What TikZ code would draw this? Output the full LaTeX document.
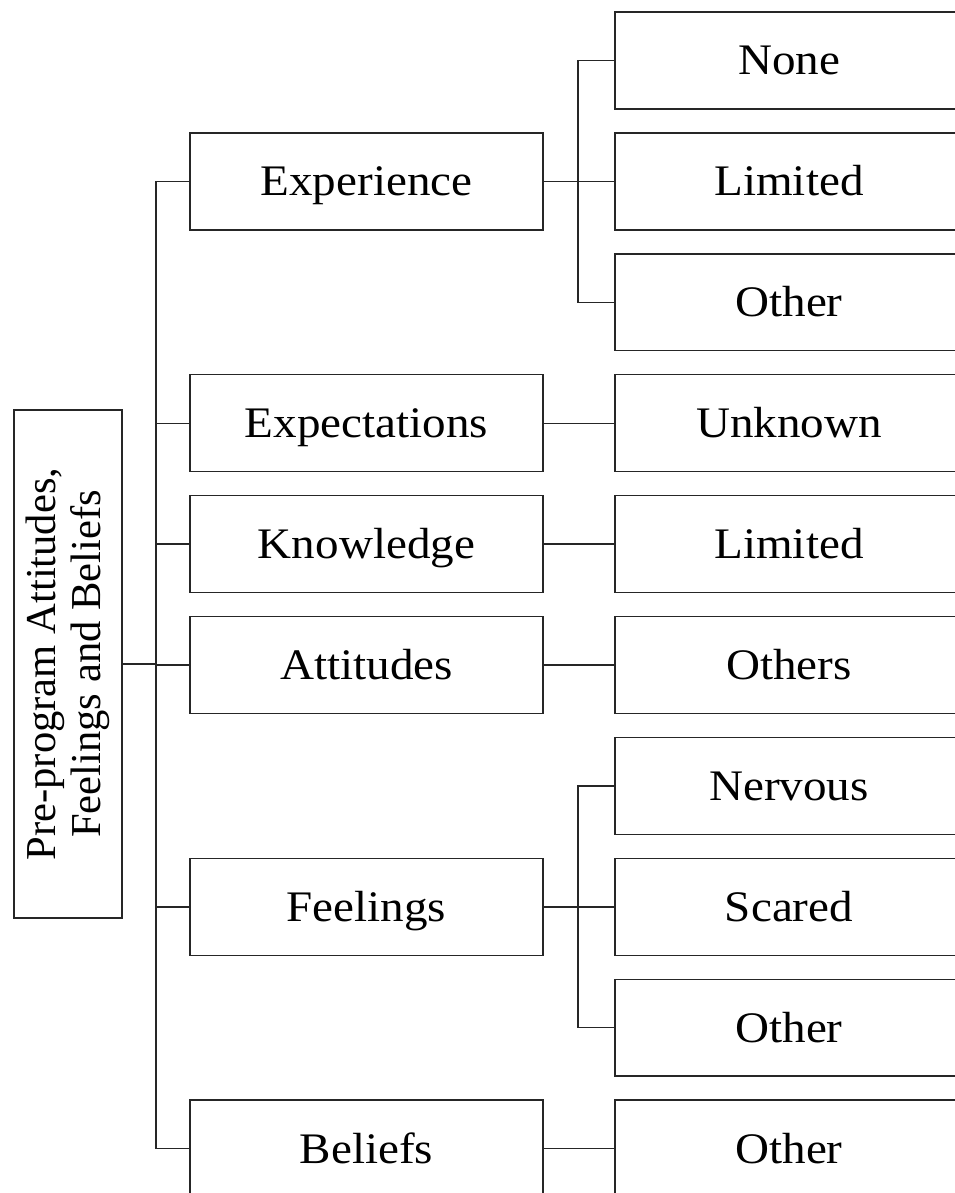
\documentclass[tikz,border=0pt]{standalone}
\usepackage{fontspec}
\setmainfont[FakeStretch=1.08]{Liberation Serif}
\newfontfamily\rootfont{Liberation Serif}

\begin{document}
\begin{tikzpicture}[x=0.025cm, y=-0.025cm,
	box/.style={draw=black!85, line width=1pt, inner sep=0pt, text height=20.5pt, text depth=0pt, font=\fontsize{31}{33}\selectfont},
	midbox/.style={box, minimum width=8.825cm, minimum height=2.42cm},
	leafbox/.style={box, minimum width=8.7cm, minimum height=2.42cm},
	rootbox/.style={draw=black!85, line width=1pt, inner sep=0pt, rotate=90, align=center, minimum width=12.7cm, minimum height=2.7cm, font=\rootfont\fontsize{30.3}{32}\selectfont},
	link/.style={draw=black!85, line width=1pt}]
	% Parameters
	\def\rowtop{60.5}
	\def\rowpitch{120.9}
	\def\midx{366.5}
	\def\leafx{789}
	\def\trunkx{156}
	\def\branchx{578}
	
	\useasboundingbox (0,0) rectangle (955,1193);
	\clip (0,0) rectangle (955,1193);
	
	%root
	\node[rootbox] (root) at (68,664) {Pre-program Attitudes,\\Feelings and Beliefs};
	
	%categories
	\node[midbox] (exper) at (\midx,\rowtop+1*\rowpitch) {Experience};
	\node[midbox] (expect) at (\midx,\rowtop+3*\rowpitch) {Expectations};
	\node[midbox] (know) at (\midx,\rowtop+4*\rowpitch) {Knowledge};
	\node[midbox] (attit) at (\midx,\rowtop+5*\rowpitch) {Attitudes};
	\node[midbox] (feel) at (\midx,\rowtop+7*\rowpitch) {Feelings};
	\node[midbox] (belief) at (\midx,\rowtop+9*\rowpitch) {Beliefs};
	
	%answers
	\node[leafbox] (none) at (\leafx,\rowtop) {None};
	\node[leafbox] (explim) at (\leafx,\rowtop+1*\rowpitch) {Limited};
	\node[leafbox] (expoth) at (\leafx,\rowtop+2*\rowpitch) {Other};
	\node[leafbox] (unknown) at (\leafx,\rowtop+3*\rowpitch) {Unknown};
	\node[leafbox] (knowlim) at (\leafx,\rowtop+4*\rowpitch) {Limited};
	\node[leafbox] (others) at (\leafx,\rowtop+5*\rowpitch) {Others};
	\node[leafbox] (nervous) at (\leafx,\rowtop+6*\rowpitch) {Nervous};
	\node[leafbox] (scared) at (\leafx,\rowtop+7*\rowpitch) {Scared};
	\node[leafbox] (feeloth) at (\leafx,\rowtop+8*\rowpitch) {Other};
	\node[leafbox] (beloth) at (\leafx,\rowtop+9*\rowpitch) {Other};
	
	%trunk
	\coordinate (trunk) at (\trunkx,664);
	\draw[link] (root.south) -- (trunk);
	\foreach \m in {exper,expect,know,attit,feel,belief} {
		\draw[link] (trunk) |- (\m.west);
	}
	
	%branches
	\coordinate (bexper) at (\branchx,\rowtop+1*\rowpitch);
	\draw[link] (exper.east) -- (bexper);
	\foreach \r in {none,explim,expoth} {
		\draw[link] (bexper) |- (\r.west);
	}
	\coordinate (bfeel) at (\branchx,\rowtop+7*\rowpitch);
	\draw[link] (feel.east) -- (bfeel);
	\foreach \r in {nervous,scared,feeloth} {
		\draw[link] (bfeel) |- (\r.west);
	}
	\draw[link] (expect.east) -- (unknown.west);
	\draw[link] (know.east) -- (knowlim.west);
	\draw[link] (attit.east) -- (others.west);
	\draw[link] (belief.east) -- (beloth.west);
\end{tikzpicture}
\end{document}
